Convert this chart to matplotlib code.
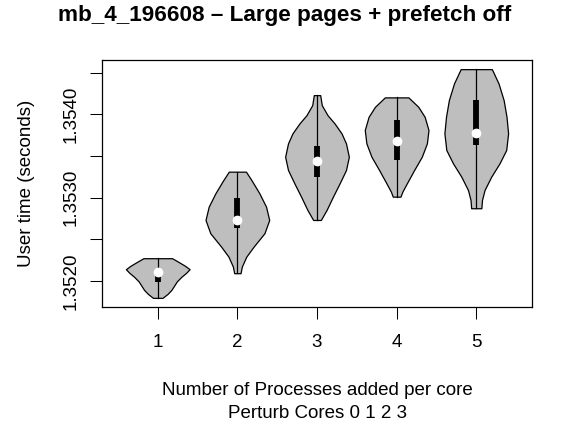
import numpy as np
import matplotlib
matplotlib.use('Agg')
from matplotlib import pyplot as plt

plt.rcParams['font.family'] = ['Liberation Sans', 'DejaVu Sans']

procs = [1, 2, 3, 4, 5]

# violin outlines: user time (s) and relative density
y1 = [1.351796, 1.351844, 1.351892, 1.351940, 1.351994, 1.352048,
      1.352096, 1.352140, 1.352180, 1.352228, 1.352272]
d1 = [0.15, 0.31, 0.43, 0.51, 0.60, 0.74, 0.89, 1.0, 0.86, 0.65, 0.45]

y2 = [1.352092, 1.352171, 1.352291, 1.352411, 1.352572, 1.352731,
      1.352891, 1.353052, 1.353211, 1.353311]
d2 = [0.10, 0.14, 0.28, 0.51, 0.85, 1.0, 0.90, 0.69, 0.44, 0.27]

y3 = [1.352731, 1.352851, 1.353011, 1.353171, 1.353331, 1.353490,
      1.353651, 1.353771, 1.353891, 1.353990, 1.354110, 1.354230]
d3 = [0.12, 0.30, 0.50, 0.71, 0.91, 1.0, 0.91, 0.77, 0.55, 0.33, 0.15, 0.10]

y4 = [1.353011, 1.353071, 1.353171, 1.353331, 1.353490, 1.353651,
      1.353811, 1.353970, 1.354090, 1.354203]
d4 = [0.12, 0.18, 0.32, 0.55, 0.79, 0.95, 1.0, 0.88, 0.68, 0.37]

y5 = [1.352872, 1.352971, 1.353091, 1.353251, 1.353411, 1.353571,
      1.353771, 1.353970, 1.354170, 1.354370, 1.354542]
d5 = [0.16, 0.18, 0.26, 0.47, 0.73, 0.94, 1.0, 0.95, 0.86, 0.70, 0.49]

q1 = [1.351992, 1.352632, 1.353251, 1.353451, 1.353631]
med = [1.352112, 1.352731, 1.353445, 1.353682, 1.353778]
q3 = [1.352126, 1.352992, 1.353625, 1.353930, 1.354170]

yticks = [1.3520, 1.3525, 1.3530, 1.3535, 1.3540, 1.3545]
ylabels = ['1.3520', '', '1.3530', '', '1.3540', '']

fig = plt.figure(figsize=(5.82, 4.23), dpi=100)
ax = fig.add_axes([102/582, 1 - 307/423, 430/582, 247/423])

for x, ys, ds, lo, m, hi in zip(procs, [y1, y2, y3, y4, y5], [d1, d2, d3, d4, d5], q1, med, q3):
    ys = np.array(ys)
    half = 0.4 * np.array(ds) / max(ds)
    ax.fill_betweenx(ys, x - half, x + half, facecolor='#BEBEBE', edgecolor='black', lw=0.9)
    ax.plot([x, x], [ys[0], ys[-1]], color='black', lw=0.9)
    ax.plot([x, x], [lo, hi], color='black', lw=4.2, solid_capstyle='butt')
    ax.plot(x, m, 'o', color='white', mec='white', ms=6)

allys = np.concatenate([y1, y2, y3, y4, y5])
rng = allys.max() - allys.min()
ax.set_ylim(allys.min() - 0.04*rng, allys.max() + 0.04*rng)
ax.set_xlim(0.3, 5.7)

ax.set_xticks(procs)
ax.set_yticks(yticks)
ax.set_yticklabels(ylabels, rotation=90, va='center')
ax.tick_params(length=8.3, width=0.75, labelsize=13.5, color='black')
ax.tick_params(axis='x', pad=11)
ax.tick_params(axis='y', pad=8)
for s in ax.spines.values():
    s.set_linewidth(0.9)

fig.text(284.5/582, 1 - 20.7/423, 'mb_4_196608 \u2013 Large pages + prefetch off',
         ha='center', va='baseline', fontweight='bold', fontsize=16.2)
fig.text(317/582, 1 - 395/423, 'Number of Processes added per core', ha='center', va='baseline', fontsize=13.5)
fig.text(317/582, 1 - 417.7/423, 'Perturb Cores 0 1 2 3', ha='center', va='baseline', fontsize=13.5)
fig.text(26.7/582, 1 - 183.5/423, 'User time (seconds)', rotation=90, ha='center', va='center', fontsize=13.5)

fig.savefig('out.png', dpi=100)
